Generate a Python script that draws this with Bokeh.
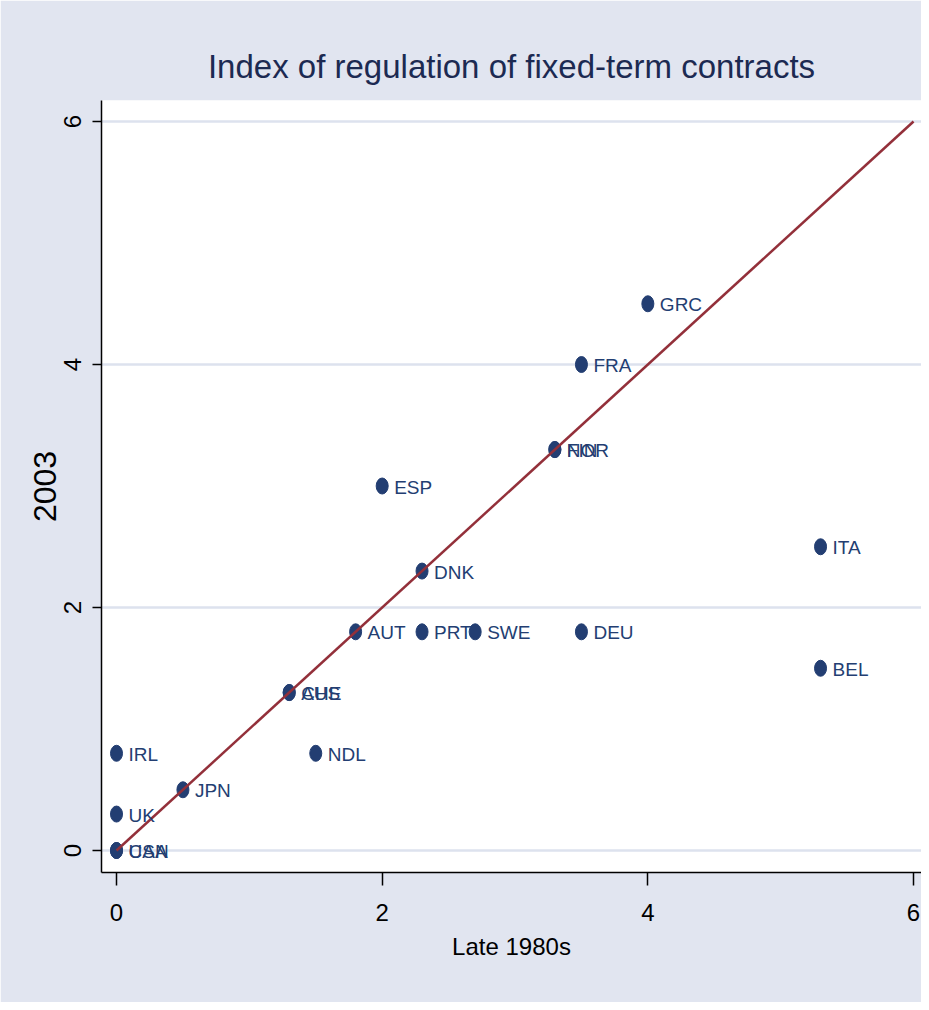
from bokeh.plotting import figure
from bokeh.models import Range1d, FixedTicker, ColumnDataSource
from bokeh.core.properties import value
from bokeh.embed import file_html
from bokeh.resources import INLINE

# ---- data ----
countries = ["USA", "CAN", "UK", "IRL", "JPN", "AUS", "CHE", "NDL", "AUT", "PRT",
             "SWE", "DEU", "DNK", "ESP", "FIN", "NOR", "FRA", "GRC", "ITA", "BEL"]
late_1980s = [0.0, 0.0, 0.0, 0.0, 0.5, 1.3, 1.3, 1.5, 1.8, 2.3,
              2.7, 3.5, 2.3, 2.0, 3.3, 3.3, 3.5, 4.0, 5.3, 5.3]
y_2003 = [0.0, 0.0, 0.3, 0.8, 0.5, 1.3, 1.3, 0.8, 1.8, 1.8,
          1.8, 1.8, 2.3, 3.0, 3.3, 3.3, 4.0, 4.5, 2.5, 1.5]
line_x = [0, 6]
line_y = [0, 6]
ticks = [0, 2, 4, 6]

BG = "#e1e5f0"
NAVY = "#233e72"
MAROON = "#93303a"
FONT = "Liberation Sans"

src = ColumnDataSource(dict(x=late_1980s, y=y_2003, name=countries))

p = figure(width=921, height=1002, output_backend="svg", toolbar_location=None,
           x_range=Range1d(-0.113, 6.060), y_range=Range1d(-0.181, 6.173),
           min_border_left=101, min_border_right=0, min_border_top=100,
           min_border_bottom=130,
           title="Index of regulation of fixed-term contracts")

p.background_fill_color = "white"
p.border_fill_color = BG
p.outline_line_color = None

p.title.align = "center"
p.title.text_font = FONT
p.title.text_font_size = "33px"
p.title.text_font_style = "normal"
p.title.text_color = "#1c2a52"
p.title.standoff = 31

p.xgrid.visible = False
p.ygrid.grid_line_color = "#dde2ee"
p.ygrid.grid_line_width = 2.5

for ax in (p.xaxis[0], p.yaxis[0]):
    ax.ticker = FixedTicker(ticks=ticks)
    ax.axis_line_color = "black"
    ax.axis_line_width = 1.5
    ax.major_tick_line_color = "black"
    ax.major_tick_line_width = 1.5
    ax.major_tick_in = 0
    ax.minor_tick_line_color = None
    ax.major_label_text_color = "black"
    ax.axis_label_text_color = "black"
    ax.axis_label_text_font_style = "normal"

p.xaxis.axis_label = "Late 1980s"
p.xaxis.major_tick_out = 13
p.xaxis.major_label_text_font = FONT
p.xaxis.major_label_text_font_size = "24px"
p.xaxis.major_label_standoff = 18
p.xaxis.axis_label_text_font = FONT
p.xaxis.axis_label_text_font_size = "24px"
p.xaxis.axis_label_standoff = 9

p.yaxis.axis_label = "2003"
p.yaxis.major_tick_out = 9
p.yaxis.major_label_orientation = "vertical"
p.yaxis.major_label_text_font = FONT
p.yaxis.major_label_text_font_size = "24px"
p.yaxis.major_label_standoff = 11
p.yaxis.axis_label_text_font = FONT
p.yaxis.axis_label_text_font_size = "32px"
p.yaxis.axis_label_standoff = 6

p.ellipse(x="x", y="y", width=12, height=16, width_units="screen",
          height_units="screen", source=src, fill_color=NAVY, line_color=NAVY)

p.line(line_x, line_y, line_color=MAROON, line_width=2.5)

p.text(x="x", y="y", text="name", source=src, x_offset=12, y_offset=1,
       text_font=value(FONT), text_font_size="19px", text_color=NAVY,
       text_baseline="middle", text_align="left")

open("out.html", "w").write(file_html(p, INLINE))
